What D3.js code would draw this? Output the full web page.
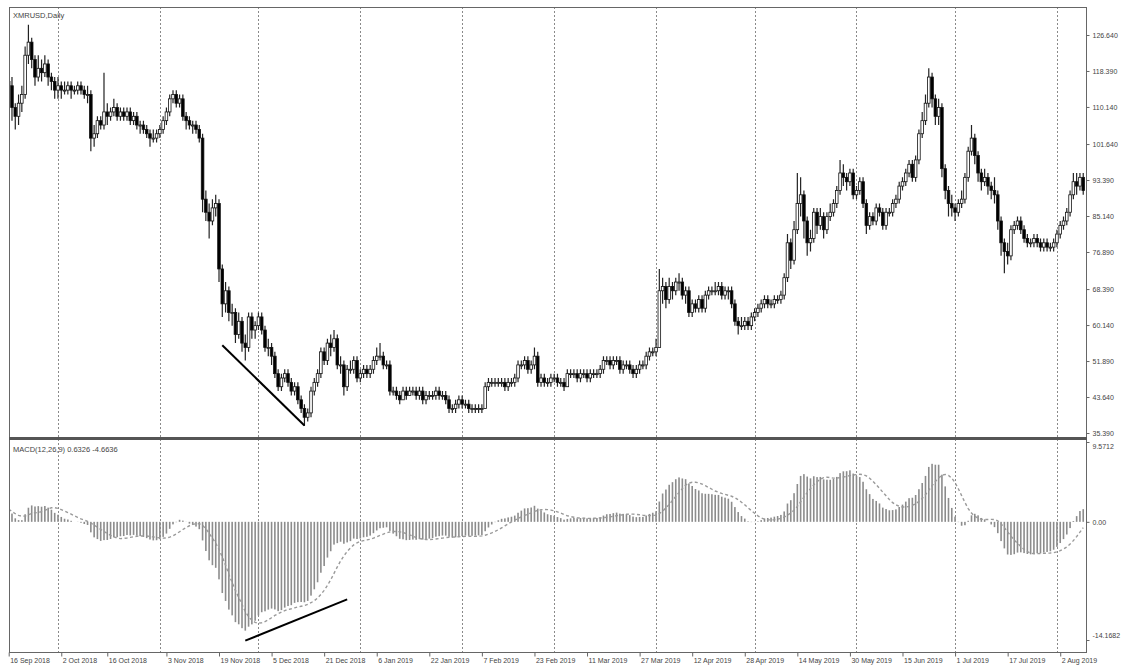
<!DOCTYPE html>
<html><head><meta charset="utf-8">
<script src="https://cdn.jsdelivr.net/npm/d3@7"></script>
<style>body{margin:0;background:#fff}svg{display:block}</style>
</head><body><svg id="c" width="1121" height="668"></svg>
<script>
// ---------- DATA ----------
const symbolTitle = "XMRUSD,Daily";
const macdTitle = "MACD(12,26,9) 0.6326 -4.6636";
const startDate = "2018-09-16";
const firstOpen = 116;
const macdStart = 1.5; // MACD value at the first visible bar
const closes = [
115,110,108,111,113,122,125,121,117,119,
118,120,117,116,114,115,114,114,115,114,
114,115,114,113,113,103,104,107,106,109,
108,109,110,108,109,108,109,107,108,106,
106,105,104,103,103,104,105,107,109,112,
113,111,112,108,107,106,106,105,103,89,
86,84,87,88,73,65,68,63,63,58,
61,56,55,62,59,60,62,59,55,55,
53,49,46,48,49,47,45,46,43,41,
39,40,45,47,49,54,52,56,55,57,
51,51,46,50,50,52,48,49,50,49,
50,52,53,53,51,51,45,45,44,43,
45,44,45,45,44,45,43,44,44,44,
45,44,44,43,41,41,42,43,42,42,
41,41,41,41,41,46,47,47,47,47,
47,46,47,47,48,51,51,52,50,51,
53,47,48,47,47,48,48,47,47,46,
49,49,49,48,49,49,48,49,49,49,
50,52,52,51,52,52,50,51,51,50,
49,50,51,51,53,54,54,55,68,69,
66,69,68,70,70,67,68,63,65,64,
66,64,67,68,68,68,69,67,68,68,
65,61,60,60,61,60,62,63,64,65,
66,65,65,66,66,67,71,79,75,82,
88,90,84,79,80,86,83,85,82,85,
86,88,91,95,94,93,95,90,91,93,
88,83,85,84,87,86,83,86,86,88,
89,92,93,95,97,94,98,104,107,111,
117,112,108,110,96,91,88,87,86,88,
89,94,100,103,99,95,93,94,92,91,
90,84,79,77,76,82,83,84,82,80,
79,79,80,79,78,79,78,78,79,81,
83,84,86,90,93,92,94,91];
const highs = [
119,117,111,113,115,124,129,126,122,122,
121,122,121,118,117,117,116,116,116,116,
115,116,116,115,115,114,106,108,108,118,
111,110,112,111,110,110,110,110,109,109,
107,107,106,105,105,105,106,108,110,113,
114,114,113,113,109,108,107,107,106,104,
91,88,89,90,89,74,70,69,65,64,
63,62,58,63,63,61,63,63,60,57,
56,54,50,49,50,50,48,47,47,44,
42,41,46,48,50,55,55,57,58,59,
58,53,52,51,52,53,53,50,51,51,
51,53,55,56,54,52,52,46,46,45,
46,46,46,46,46,46,46,45,45,45,
46,46,45,45,44,42,43,44,44,43,
43,42,42,42,42,47,48,48,48,48,
48,48,48,48,49,52,52,53,53,52,
55,54,49,49,48,49,49,49,48,48,
50,50,50,50,50,50,50,50,50,50,
51,53,53,53,53,53,53,52,52,52,
51,51,52,52,54,55,55,57,73,71,
70,71,70,71,72,71,69,69,66,66,
67,67,68,69,69,70,70,70,69,69,
69,66,62,62,62,62,63,64,65,66,
67,67,66,67,67,68,72,81,80,84,
95,94,91,85,82,87,87,87,86,86,
88,89,92,98,97,95,96,96,92,94,
94,89,86,86,88,88,87,87,87,89,
90,93,94,96,98,98,99,105,109,113,
119,118,113,112,111,97,92,90,88,89,
91,95,101,106,104,100,96,96,95,93,
94,91,85,80,79,83,84,85,85,83,
81,80,81,81,80,80,80,79,80,82,
84,85,87,91,95,95,95,95];
const lows = [
111,107,105,106,109,112,120,119,115,116,
116,117,115,114,112,112,112,113,113,112,
113,113,113,112,111,100,101,103,105,105,
106,107,108,107,107,107,107,106,106,105,
104,104,103,101,102,102,103,104,106,108,
111,110,110,107,105,105,104,104,102,86,
84,80,83,85,70,62,63,61,60,56,
57,54,52,54,57,57,59,58,54,53,
51,48,45,45,47,46,44,44,42,40,
37,38,39,44,46,48,51,51,53,54,
50,49,44,45,49,49,47,47,48,48,
48,49,51,52,50,50,44,44,43,42,
43,43,44,44,43,43,42,42,43,43,
43,43,43,42,40,40,40,41,41,41,
40,40,40,40,40,41,45,46,46,46,
46,45,45,46,46,47,50,50,49,49,
50,46,46,46,46,46,47,46,46,45,
46,48,48,47,47,48,47,47,48,48,
48,49,51,50,50,51,49,49,50,49,
48,48,49,50,50,52,53,53,55,65,
64,65,66,67,68,66,65,62,62,63,
63,63,63,66,67,67,67,66,66,66,
64,60,58,59,59,59,59,61,62,63,
64,64,64,64,65,65,66,70,73,74,
81,85,80,76,77,79,81,82,80,81,
84,85,87,90,92,91,92,89,89,90,
87,81,82,83,83,85,82,82,85,85,
87,88,91,92,94,93,93,97,103,106,
110,110,106,106,94,89,85,85,84,85,
87,88,93,99,97,93,91,92,90,89,
88,82,76,72,74,75,81,82,81,79,
78,78,78,78,77,77,77,77,77,78,
80,82,83,85,89,90,91,90];
const priceTickLabels = ["126.640","118.390","110.140","101.640","93.390","85.140","76.890","68.390","60.140","51.890","43.640","35.390"];
const macdTickLabels = ["9.5712","0.00","-14.1682"];
const dateTickDates = ["2018-09-16","2018-10-02","2018-10-16","2018-11-03","2018-11-19","2018-12-05","2018-12-21","2019-01-06","2019-01-22","2019-02-07","2019-02-23","2019-03-11","2019-03-27","2019-04-12","2019-04-28","2019-05-14","2019-05-30","2019-06-15","2019-07-01","2019-07-17","2019-08-02"];
const dateTickLabels = ["16 Sep 2018","2 Oct 2018","16 Oct 2018","3 Nov 2018","19 Nov 2018","5 Dec 2018","21 Dec 2018","6 Jan 2019","22 Jan 2019","7 Feb 2019","23 Feb 2019","11 Mar 2019","27 Mar 2019","12 Apr 2019","28 Apr 2019","14 May 2019","30 May 2019","15 Jun 2019","1 Jul 2019","17 Jul 2019","2 Aug 2019"];
const gridDates = ["2018-10-01","2018-11-01","2018-12-01","2019-01-01","2019-02-01","2019-03-01","2019-04-01","2019-05-01","2019-06-01","2019-07-01","2019-08-01"];
const priceTrendDates = ["2018-11-20","2018-12-15"];
const priceTrendValues = [55.5, 37.1];
const macdTrendDates = ["2018-11-27","2018-12-28"];
const macdTrendValues = [-14.25, -9.3];

// ---------- SETUP ----------
const parse = d3.utcParse("%Y-%m-%d");
const start = parse(startDate);
const L = 9, R = 1086, T = 7, SEP = 438.5, B = 652;
const svg = d3.select("#c");
const font = "'Liberation Sans', Arial, sans-serif";

const x = d3.scaleUtc().domain([parse("2018-09-16"), parse("2019-08-01")]).range([8.7, 8.7 + 319 * 3.286]);
const yP = d3.scaleLinear().domain([35.39, 126.64]).range([433, 35]);
const yM = d3.scaleLinear().domain([-14.1682, 9.5712]).range([640, 442]);

const bars = closes.map((c, i) => ({
  date: d3.utcDay.offset(start, i),
  o: i ? closes[i - 1] : firstOpen, c, h: highs[i], l: lows[i]
}));

// MACD(12,26,9) from closes
function ema(arr, n, seed) { const k = 2 / (n + 1); const out = []; arr.forEach((v, i) => out.push(i ? out[i - 1] + k * (v - out[i - 1]) : seed)); return out; }
const e12 = ema(closes, 12, closes[0]), e26 = ema(closes, 26, closes[0] - macdStart);
const macd = closes.map((_, i) => e12[i] - e26[i]);
const signal = macd.map((_, i) => d3.mean(macd.slice(Math.max(0, i - 8), i + 1)));

const defs = svg.append("defs");
defs.append("clipPath").attr("id", "cp").append("rect").attr("x", L).attr("y", T).attr("width", R - L).attr("height", SEP - T);
defs.append("clipPath").attr("id", "cm").append("rect").attr("x", L).attr("y", SEP + 1.5).attr("width", R - L).attr("height", B - SEP - 1.5);

// grid
const grid = svg.append("g");
gridDates.forEach(d => {
  const gx = Math.round(x(parse(d))) + 0.5;
  grid.append("line").attr("x1", gx).attr("x2", gx).attr("y1", T).attr("y2", B)
    .attr("stroke", "#8a8a8a").attr("stroke-width", 1).attr("stroke-dasharray", "2,2");
});

// candles
const gP = svg.append("g").attr("clip-path", "url(#cp)");
gP.selectAll("line.w").data(bars).join("line").attr("class", "w")
  .attr("x1", d => x(d.date)).attr("x2", d => x(d.date))
  .attr("y1", d => yP(d.h)).attr("y2", d => yP(d.l))
  .attr("stroke", "#222").attr("stroke-width", 1.2);
gP.selectAll("rect.b").data(bars).join("rect").attr("class", "b")
  .attr("x", d => x(d.date) - 1.3).attr("width", 2.6)
  .attr("y", d => yP(Math.max(d.o, d.c)))
  .attr("height", d => Math.max(1, Math.abs(yP(d.o) - yP(d.c))))
  .attr("fill", d => d.c >= d.o ? "#fff" : "#000")
  .attr("stroke", "#111").attr("stroke-width", 0.8);

// price trend line
gP.append("line")
  .attr("x1", x(parse(priceTrendDates[0]))).attr("y1", yP(priceTrendValues[0]))
  .attr("x2", x(parse(priceTrendDates[1]))).attr("y2", yP(priceTrendValues[1]))
  .attr("stroke", "#000").attr("stroke-width", 2);

// MACD
const gM = svg.append("g").attr("clip-path", "url(#cm)");
gM.selectAll("rect.h").data(macd).join("rect").attr("class", "h")
  .attr("x", (d, i) => x(bars[i].date) - 0.8).attr("width", 1.6)
  .attr("y", d => Math.min(yM(0), yM(d)))
  .attr("height", d => Math.abs(yM(d) - yM(0)))
  .attr("fill", "#8c8c8c");
gM.append("path")
  .datum(signal.map((s, i) => [bars[i].date, s]))
  .attr("d", d3.line().x(d => x(d[0])).y(d => yM(d[1])))
  .attr("fill", "none").attr("stroke", "#9a9a9a").attr("stroke-width", 1.4).attr("stroke-dasharray", "3,2.5");
gM.append("line")
  .attr("x1", x(parse(macdTrendDates[0]))).attr("y1", yM(macdTrendValues[0]))
  .attr("x2", x(parse(macdTrendDates[1]))).attr("y2", yM(macdTrendValues[1]))
  .attr("stroke", "#000").attr("stroke-width", 2);

// frame
svg.append("rect").attr("x", L + 0.5).attr("y", T + 0.5).attr("width", R - L).attr("height", B - T)
  .attr("fill", "none").attr("stroke", "#666").attr("stroke-width", 1);
svg.append("line").attr("x1", L).attr("x2", R + 1).attr("y1", SEP).attr("y2", SEP)
  .attr("stroke", "#555").attr("stroke-width", 3);

// axes
const axP = d3.axisRight(yP).tickValues(priceTickLabels.map(Number)).tickSize(3).tickPadding(3)
  .tickFormat((d, i) => priceTickLabels[i]);
const gAP = svg.append("g").attr("transform", `translate(${R + 0.5},0)`).call(axP);
const axM = d3.axisRight(yM).tickValues(macdTickLabels.map(Number)).tickSize(3).tickPadding(3)
  .tickFormat((d, i) => macdTickLabels[i]);
const gAM = svg.append("g").attr("transform", `translate(${R + 0.5},0)`).call(axM);
gAM.selectAll(".tick text").attr("dy", (d, i) => i === 0 ? "0.95em" : i === 2 ? "-0.35em" : "0.32em");
const axX = d3.axisBottom(x).tickValues(dateTickDates.map(parse)).tickSize(4).tickPadding(2)
  .tickFormat((d, i) => dateTickLabels[i]);
const gAX = svg.append("g").attr("transform", `translate(0,${B + 0.5})`).call(axX);
gAX.selectAll(".tick text").attr("text-anchor", "start").attr("dx", "1");
[gAP, gAM, gAX].forEach(g => {
  g.select(".domain").remove();
  g.selectAll(".tick line").attr("stroke", "#666");
  g.selectAll(".tick text").attr("fill", "#444").style("font-family", font).style("font-size", "7px");
});

// titles
svg.append("text").attr("x", 13).attr("y", 18).text(symbolTitle)
  .style("font-family", font).style("font-size", "7.5px").attr("fill", "#444");
svg.append("text").attr("x", 13).attr("y", 452).text(macdTitle)
  .style("font-family", font).style("font-size", "7.5px").attr("fill", "#444");
</script></body></html>
